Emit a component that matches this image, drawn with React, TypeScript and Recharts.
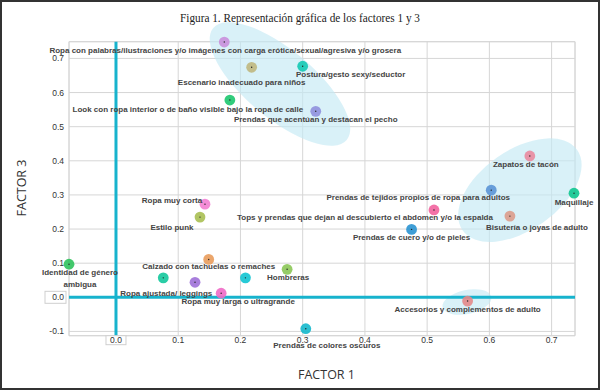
import { ScatterChart, Scatter, XAxis, YAxis, CartesianGrid, ReferenceLine, ReferenceArea } from 'recharts'

// items plotted on factor 1 (x) and factor 3 (y)
const items = [
  'Ropa con palabras/ilustraciones y/o imágenes con carga erótica/sexual/agresiva y/o grosera',
  'Escenario inadecuado para niños',
  'Postura/gesto sexy/seductor',
  'Look con ropa interior o de baño visible bajo la ropa de calle',
  'Prendas que acentúan y destacan el pecho',
  'Ropa muy corta',
  'Estilo punk',
  'Zapatos de tacón',
  'Prendas de tejidos propios de ropa para adultos',
  'Maquillaje',
  'Tops y prendas que dejan al descubierto el abdomen y/o la espalda',
  'Bisutería o joyas de adulto',
  'Prendas de cuero y/o de pieles',
  'Identidad de género\nambigua',
  'Calzado con tachuelas o remaches',
  'Ropa ajustada/ leggings',
  '',
  '',
  'Ropa muy larga o ultragrande',
  'Hombreras',
  'Accesorios y complementos de adulto',
  'Prendas de colores oscuros',
]

const factor1 = [
  0.174, 0.218, 0.3, 0.183, 0.321, 0.143, 0.135, 0.665, 0.603, 0.736, 0.511,
  0.633, 0.475, -0.0755, 0.149, 0.076, 0.127, 0.208, 0.169, 0.275, 0.565, 0.305,
]

const factor3 = [
  0.748, 0.674, 0.677, 0.578, 0.545, 0.273, 0.235, 0.414, 0.314, 0.305, 0.256,
  0.238, 0.199, 0.097, 0.111, 0.057, 0.044, 0.057, 0.012, 0.082, -0.011, -0.092,
]

const dotColors = [
  '#c98fdc', '#bfb77e', '#12c9b4', '#1cc66e', '#8f90dd', '#f27fd2', '#a9bf52',
  '#e98a9f', '#5b95d6', '#10c690', '#f2639e', '#dc9c8b', '#2a93d2', '#2fc25c',
  '#e99c5c', '#13c89c', '#9e70d8', '#10c4d2', '#f06ac6', '#8bc757', '#e38888',
  '#14b8cc',
]

// label offset from its point, in pixels (dx, dy)
const labelOffsets = [
  [1, 8], [-10, 15], [48, 8], [-42, 9], [0, 8], [-33, -4], [-28, 10], [-4, 8],
  [-73, 7], [0, 9], [-69, 8], [27, 11], [0, 8], [11, 8], [0, 7], [3, 16],
  [0, 0], [0, 0], [17, 8], [1, 8], [0, 8], [21, 17],
]

// highlighted groups (centre, half axes in data units, tilt in degrees)
const groupX = [0.2635, 0.649, 0.564]
const groupY = [0.625, 0.314, -0.0138]
const groupRx = [0.14, 0.1125, 0.04]
const groupRy = [0.1, 0.117, 0.035]
const groupTilt = [40, -35, -12]

const xTicks = [0, 0.1, 0.2, 0.3, 0.4, 0.5, 0.6, 0.7]
const yTicks = [-0.1, 0, 0.1, 0.2, 0.3, 0.4, 0.5, 0.6, 0.7]

const xDomain = [-0.0755, 0.7376]
const yDomain = [-0.1125, 0.749]

const rows = items.map((name, i) => ({ name, x: factor1[i], y: factor3[i], idx: i }))

const tickFont = { fontFamily: 'Liberation Sans, Arial, sans-serif', fontSize: 8.5, fill: '#333' }

function YTick({ x, y, payload }: any) {
  const v = payload.value as number
  return (
    <g>
      {v === 0 && <rect x={x - 21} y={y - 6} width={21} height={12} fill="#fff" stroke="#cfcfcf" />}
      <text x={x - 2} y={y} textAnchor="end" dominantBaseline="central" {...tickFont}>
        {v.toFixed(1)}
      </text>
    </g>
  )
}

function XTick({ x, y, payload }: any) {
  const v = payload.value as number
  return (
    <g>
      {v === 0 && <rect x={x - 10} y={y} width={20} height={9} fill="#fff" stroke="#cfcfcf" />}
      <text x={x} y={y + 4} textAnchor="middle" dominantBaseline="central" {...tickFont}>
        {v.toFixed(1)}
      </text>
    </g>
  )
}

function PointDot({ cx, cy, payload }: any) {
  return (
    <g>
      <circle cx={cx} cy={cy} r={5.4} fill={dotColors[payload.idx]} fillOpacity={0.9} />
      <circle cx={cx} cy={cy} r={0.7} fill="#222" />
    </g>
  )
}

function PointLabel({ cx, cy, payload }: any) {
  const text: string = payload.name
  if (!text) return <g />
  const [dx, dy] = labelOffsets[payload.idx]
  const lines = text.split('\n')
  return (
    <g>
      {lines.map((line, k) => (
        <text
          key={k}
          x={cx + dx}
          y={cy + dy + k * 12}
          textAnchor="middle"
          dominantBaseline="central"
          fontFamily="Liberation Sans, Arial, sans-serif"
          fontSize={8}
          fontWeight="bold"
          fill="#444"
        >
          {line}
        </text>
      ))}
    </g>
  )
}

const makeEllipse = (tilt: number) => (props: any) => {
  const { x, y, width, height } = props
  const cx = x + width / 2
  const cy = y + height / 2
  return (
    <ellipse
      cx={cx}
      cy={cy}
      rx={Math.abs(width) / 2}
      ry={Math.abs(height) / 2}
      transform={`rotate(${tilt} ${cx} ${cy})`}
      fill="#c4eaf5"
      fillOpacity={0.65}
    />
  )
}

export default function App() {
  return (
    <div style={{ position: 'absolute', left: 0, top: 0, width: 600, height: 390, background: '#fff' }}>
      <ScatterChart width={600} height={390} margin={{ top: 41.7, right: 25, bottom: 34.3, left: 9 }}>
        <CartesianGrid stroke="#d6d6d6" />
        <XAxis
          type="number"
          dataKey="x"
          domain={xDomain}
          ticks={xTicks}
          axisLine={false}
          tickLine={false}
          tickSize={0}
          tickMargin={0}
          height={20}
          tick={<XTick />}
          interval={0}
        />
        <YAxis
          type="number"
          dataKey="y"
          domain={yDomain}
          ticks={yTicks}
          axisLine={false}
          tickLine={false}
          tickSize={0}
          tickMargin={3}
          width={60}
          tick={<YTick />}
          interval={0}
        />
        <ReferenceArea
          x1={xDomain[0]}
          x2={xDomain[1]}
          y1={yDomain[0]}
          y2={yDomain[1]}
          fill="none"
          stroke="#d6d6d6"
          ifOverflow="visible"
        />
        {groupX.map((gx, i) => (
          <ReferenceArea
            key={i}
            x1={gx - groupRx[i]}
            x2={gx + groupRx[i]}
            y1={groupY[i] - groupRy[i]}
            y2={groupY[i] + groupRy[i]}
            ifOverflow="visible"
            shape={makeEllipse(groupTilt[i])}
          />
        ))}
        <ReferenceLine x={0} stroke="#17b3cd" strokeWidth={3} ifOverflow="visible" />
        <ReferenceLine y={0} stroke="#17b3cd" strokeWidth={3} ifOverflow="visible" />
        <Scatter data={rows} shape={<PointDot />} isAnimationActive={false} />
        <Scatter data={rows} shape={<PointLabel />} isAnimationActive={false} />
      </ScatterChart>
      <svg width={600} height={390} style={{ position: 'absolute', left: 0, top: 0, pointerEvents: 'none' }}>
        <rect x={1} y={1} width={598} height={388} fill="none" stroke="#333" strokeWidth={2} />
        <text x={300} y={21.5} textAnchor="middle" fontFamily="Liberation Serif, serif" fontSize={12} fill="#222" textLength={240} lengthAdjust="spacingAndGlyphs">
          Figura 1. Representación gráfica de los factores 1 y 3
        </text>
        <text x={326.5} y={379} textAnchor="middle" fontFamily="Open Sans, sans-serif" fontSize={12.5} fill="#333">
          FACTOR 1
        </text>
        <text x={26} y={188} textAnchor="middle" fontFamily="Open Sans, sans-serif" fontSize={12.5} fill="#333" transform="rotate(-90 26 188)">
          FACTOR 3
        </text>
      </svg>
    </div>
  )
}
